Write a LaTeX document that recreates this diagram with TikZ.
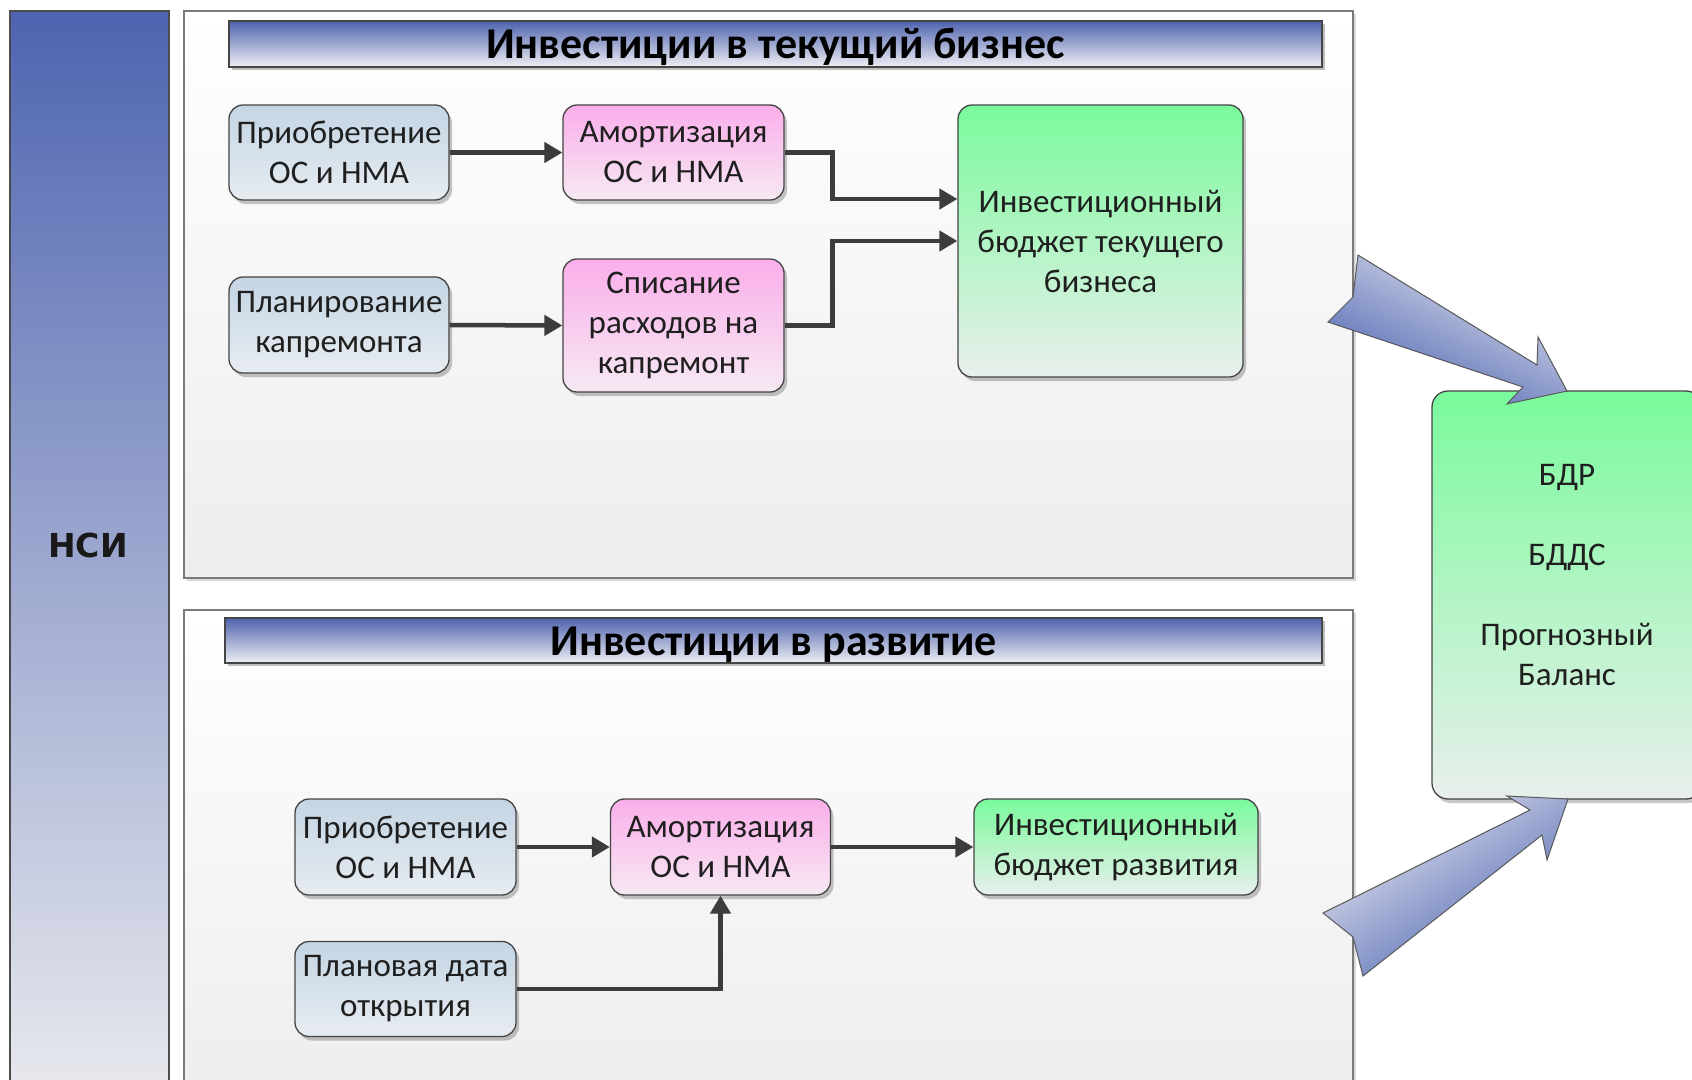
\documentclass[tikz,border=0pt]{standalone}
\usepackage{fontspec}
\setmainfont{Carlito}
\newfontfamily\nsifont{DejaVu Sans}
\usetikzlibrary{shadows,arrows.meta}

\definecolor{nsitop}{HTML}{4E64B0}
\definecolor{nsibot}{HTML}{E9EAEE}
\definecolor{ttltop}{HTML}{4F63AD}
\definecolor{ttlbot}{HTML}{EEEFF4}
\definecolor{bluetop}{HTML}{C4D5E4}
\definecolor{bluebot}{HTML}{E7ECF1}
\definecolor{pinktop}{HTML}{FAAEEA}
\definecolor{pinkbot}{HTML}{F6E9F3}
\definecolor{greentop}{HTML}{7AFA9C}
\definecolor{greenbot}{HTML}{E9EFEC}
\definecolor{linkcol}{HTML}{3C3C3C}
\definecolor{edgecol}{HTML}{454545}
\definecolor{paneledge}{HTML}{7A7A7A}
\definecolor{arrowlight}{HTML}{E6E8F0}
\definecolor{arrowdark}{HTML}{4A61B0}

\begin{document}
\begin{tikzpicture}[x=1pt,y=-1pt,
  softshadow/.style={drop shadow={shadow xshift=3pt,shadow yshift=-4pt,opacity=0.22,fill=black}},
  card/.style={draw=edgecol, line width=1.3pt, rounded corners=14pt, align=center,
    inner sep=0pt, text=black!88, font=\fontsize{33}{40}\selectfont, softshadow},
  bluecard/.style={card, top color=bluetop, bottom color=bluebot},
  pinkcard/.style={card, top color=pinktop, bottom color=pinkbot},
  greencard/.style={card, top color=greentop, bottom color=greenbot},
  panel/.style={draw=paneledge, line width=1.3pt, top color=white, bottom color=black!7,
    inner sep=0pt, drop shadow={shadow xshift=3pt,shadow yshift=-3pt,opacity=0.15,fill=black}},
  titlebar/.style={draw=edgecol, line width=1.3pt, top color=ttltop, bottom color=ttlbot,
    inner sep=0pt, drop shadow={shadow xshift=3pt,shadow yshift=-3pt,opacity=0.25,fill=black}},
  titletext/.style={inner sep=0pt, font=\fontsize{44}{48}\selectfont\bfseries, text=black},
  link/.style={draw=linkcol, line width=4.5pt, -{Triangle[length=18pt,width=20pt]}},
  blockarrow/.style={draw=black!65, line width=1pt, top color=arrowlight, bottom color=arrowdark},
]
\clip (0,0) rectangle (1692,1079);
\fill[white] (0,0) rectangle (1692,1079);

% reference data column
\node[draw=black!70, line width=1.2pt, top color=nsitop, bottom color=nsibot,
      minimum width=159pt, minimum height=1089pt, inner sep=0pt] (nsi) at (89.5,555.5) {};
\node[font=\nsifont\bfseries\fontsize{33}{38}\selectfont, text=black!90] (nsilbl) at (88,545) {НСИ};

% current business panel
\node[panel, minimum width=1169pt, minimum height=567pt] (cur) at (768.5,294.5) {};
\node[titlebar, minimum width=1093pt, minimum height=46pt] (curttl) at (775.5,44) {};
\node[titletext] (curttltxt) at (775.5,47) {Инвестиции в текущий бизнес};

\node[bluecard, minimum width=220pt, minimum height=95pt] (buy1) at (339,152.5) {Приобретение\\ОС и НМА};
\node[bluecard, minimum width=220pt, minimum height=96pt] (plan) at (339,325) {Планирование\\капремонта};
\node[pinkcard, minimum width=221pt, minimum height=95pt] (amo1) at (673.5,152.5) {Амортизация\\ОС и НМА};
\node[pinkcard, minimum width=221pt, minimum height=133pt] (wrt) at (673.5,325.5) {Списание\\расходов на\\капремонт};
\node[greencard, minimum width=285pt, minimum height=272pt] (bud1) at (1100.5,241) {Инвестиционный\\бюджет текущего\\бизнеса};

\draw[link] (buy1.east) -- (amo1.west);
\draw[link] (plan.east) -- (wrt.west);
\draw[link] (amo1.east) -- ++(48,0) |- ([yshift=42pt]bud1.west);
\draw[link] (wrt.east) -- ++(48,0) |- (bud1.west);

% development panel
\node[panel, minimum width=1169pt, minimum height=490pt] (dev) at (768.5,855) {};
\node[titlebar, minimum width=1097pt, minimum height=45pt] (devttl) at (773.5,640.5) {};
\node[titletext] (devttltxt) at (773.5,644.5) {Инвестиции в развитие};

\node[bluecard, minimum width=221pt, minimum height=96pt] (buy2) at (405.5,847) {Приобретение\\ОС и НМА};
\node[bluecard, minimum width=221pt, minimum height=95pt] (open) at (405.5,989) {Плановая дата\\открытия};
\node[pinkcard, minimum width=220pt, minimum height=96pt] (amo2) at (720.5,847) {Амортизация\\ОС и НМА};
\node[greencard, minimum width=284pt, minimum height=96pt] (bud2) at (1116,847) {Инвестиционный\\бюджет развития};

\draw[link] (buy2.east) -- (amo2.west);
\draw[link] (amo2.east) -- (bud2.west);
\draw[link] (open.east) -| (amo2.south);

% consolidated budgets
\node[greencard, rounded corners=16pt, minimum width=270pt, minimum height=408pt] (res) at (1567,595) {};
\node[font=\fontsize{33}{40}\selectfont, align=center, text=black!88] (reslbl) at (1567,575)
  {БДР\\[40pt]БДДС\\[40pt]Прогнозный\\Баланс};

% block arrows feeding the budgets
\path[blockarrow, shading angle=-25]
  (1358,255) -- (1537,365) -- (1538,337) -- (1567,391) -- (1507,404)
  -- (1523,387) -- (1328,322) -- (1353,297) -- cycle;
\path[blockarrow, shading angle=33]
  (1323,913) -- (1530,810) -- (1507,796) -- (1568,799) -- (1547,860)
  -- (1542,835) -- (1363,976) -- (1353,937) -- cycle;
\end{tikzpicture}
\end{document}
